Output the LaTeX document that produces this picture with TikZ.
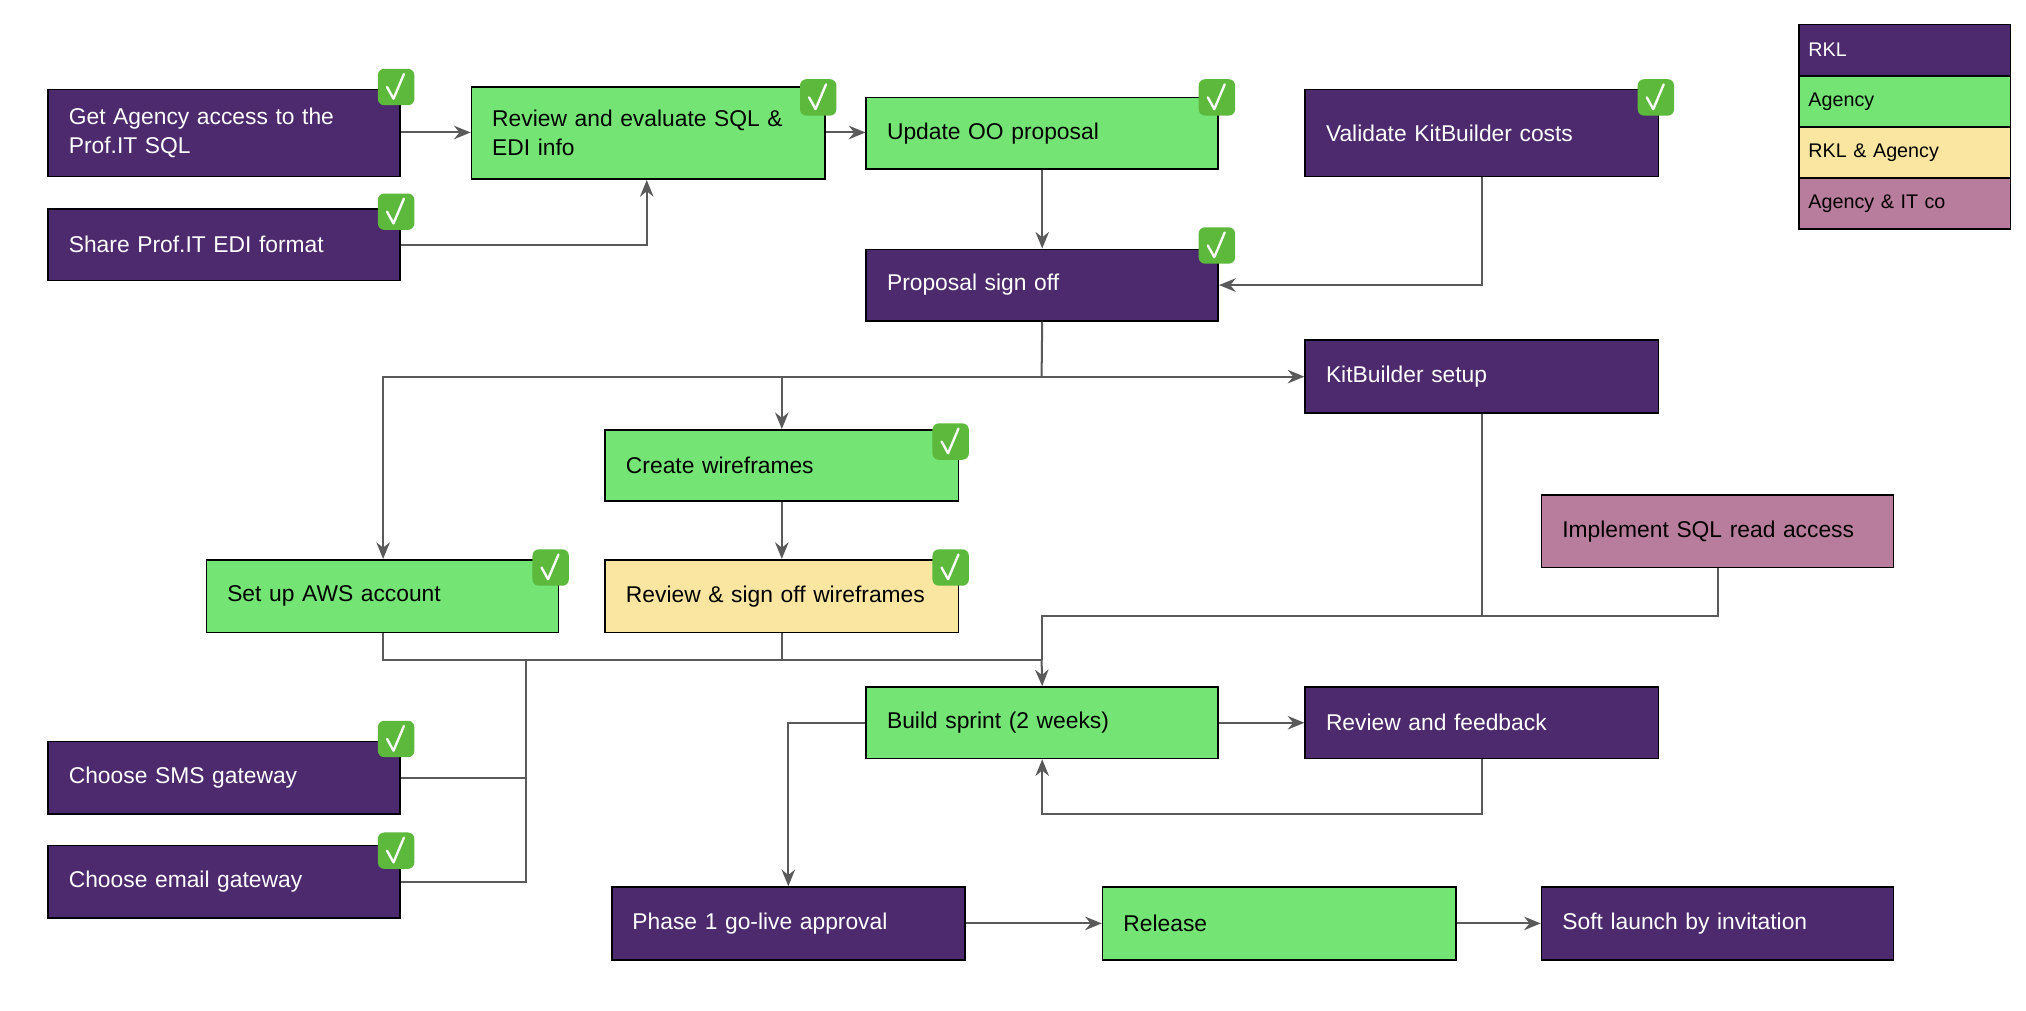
\documentclass[tikz,border=0pt]{standalone}
\usepackage{fontspec}
\setmainfont{Liberation Sans}
\usetikzlibrary{arrows.meta}
\definecolor{rkl}{HTML}{4D2A6D}
\definecolor{agy}{HTML}{74E574}
\definecolor{both}{HTML}{FBE6A1}
\definecolor{itco}{HTML}{B87C9C}
\definecolor{edge}{HTML}{5A5A5A}
\definecolor{chkg}{HTML}{5CB93C}
\newcommand{\bx}[7]{%
  \pgfmathsetmacro{\cxx}{(#2+#4)/2}\pgfmathsetmacro{\cyy}{(#3+#5)/2}%
  \pgfmathsetmacro{\ww}{(#4-#2)*0.25}\pgfmathsetmacro{\hh}{(#5-#3)*0.25}\pgfmathsetmacro{\tw}{(#4-#2-32)*0.25}%
  \node[#6,minimum width=\ww mm,minimum height=\hh mm,text width=\tw mm] (#1) at (\cxx,\cyy) {#7};}
\begin{document}
\begin{tikzpicture}[x=0.25mm,y=-0.25mm,
  box/.style={draw=black,line width=0.9pt,inner sep=0pt,align=left,font=\fontsize{12.5}{16}\selectfont},
  P/.style={box,fill=rkl,text=white},
  G/.style={box,fill=agy,text=black},
  Y/.style={box,fill=both,text=black},
  K/.style={box,fill=itco,text=black},
  L/.style={draw=black,line width=0.9pt,inner sep=0pt,align=left,minimum width=40.75mm,minimum height=9.8mm,text width=37mm,font=\fontsize{10.8}{13}\selectfont},
  ln/.style={draw=edge,line width=1.1pt},
  ar/.style={ln,-{Stealth[length=3.2mm,width=2.6mm]}},
  chk/.pic={\fill[chkg,rounded corners=1.2mm] (-14,-14) rectangle (14,14);
            \draw[white,line width=1.3pt,line join=round,line cap=round] (-7,0) -- (-2,9) -- (6,-10);}]
\useasboundingbox (0,0) rectangle (1560,778);
% legend
\node[L,fill=rkl,text=white] (l1) at (1466.5,38.5) {RKL};
\node[L,fill=agy] (l2) at (1466.5,78) {Agency};
\node[L,fill=both] (l3) at (1466.5,117.5) {RKL \& Agency};
\node[L,fill=itco] (l4) at (1466.5,156.5) {Agency \& IT co};
% boxes
\bx{ga}{37}{69}{308}{136}{P}{Get Agency access to the Prof.IT SQL}
\bx{sh}{37}{161}{308}{216}{P}{Share Prof.IT EDI format}
\bx{rs}{363}{67}{635}{138}{G}{Review and evaluate SQL \& EDI info}
\bx{up}{667}{75}{938}{130}{G}{Update OO proposal}
\bx{vk}{1005}{69}{1277}{136}{P}{Validate KitBuilder costs}
\bx{ps}{667}{192}{938}{247}{P}{Proposal sign off}
\bx{ks}{1005}{262}{1277}{318}{P}{KitBuilder setup}
\bx{cw}{466}{331}{738}{386}{G}{Create wireframes}
\bx{aws}{159}{431}{430}{487}{G}{Set up AWS account}
\bx{rw}{466}{431}{738}{487}{Y}{Review \& sign off wireframes}
\bx{sq}{1187}{381}{1458}{437}{K}{Implement SQL read access}
\bx{bs}{667}{529}{938}{584}{G}{Build sprint (2 weeks)}
\bx{rf}{1005}{529}{1277}{584}{P}{Review and feedback}
\bx{sms}{37}{571}{308}{627}{P}{Choose SMS gateway}
\bx{em}{37}{651}{308}{707}{P}{Choose email gateway}
\bx{p1}{471}{683}{743}{739}{P}{Phase 1 go-live approval}
\bx{re}{849}{683}{1121}{739}{G}{Release}
\bx{so}{1187}{683}{1458}{739}{P}{Soft launch by invitation}
% connectors
\coordinate (j1) at (802,290);
\coordinate (j2) at (802,508);
\coordinate (j3) at (802,474);
\coordinate (j4) at (405,508);
\draw[ar] (ga.east |- 0,102) -- (rs.west |- 0,102);
\draw[ar] (sh.east) -| (rs.south -| 498,0);
\draw[ar] (rs.east |- 0,102) -- (up.west |- 0,102);
\draw[ar] (up.south) -- (ps.north);
\draw[ar] (vk.south) |- (ps.east);
\draw[ln] (ps.south) -- (j1);
\draw[ar] (j1) -| (aws.north -| 295,0);
\draw[ar] (j1 -| cw.north) -- (cw.north);
\draw[ar] (j1) -- (ks.west |- j1);
\draw[ar] (cw.south) -- (rw.north);
\draw[ln] (aws.south -| 295,0) |- (j2);
\draw[ln] (rw.south) -- (rw.south |- j2);
\draw[ar] (j2) -- (bs.north);
\draw[ln] (ks.south) |- (j3) -- (j2);
\draw[ln] (sq.south -| 1323,0) |- (j3);
\draw[ln] (sms.east |- 0,599) -| (j4);
\draw[ln] (em.east |- 0,679) -| (j4);
\draw[ar] (bs.east) -- (rf.west);
\draw[ar] (rf.south) |- (1141,627) -| (bs.south);
\draw[ar] (bs.west) -| (p1.north -| 607,0);
\draw[ar] (p1.east) -- (re.west);
\draw[ar] (re.east) -- (so.west);
% checks
\foreach \p in {(305,67),(305,163),(630,75),(937,75),(1275,75),(937,189),(732,340),(424,437),(732,437),(305,569),(305,655)}
  \pic at \p {chk};
\end{tikzpicture}
\end{document}
